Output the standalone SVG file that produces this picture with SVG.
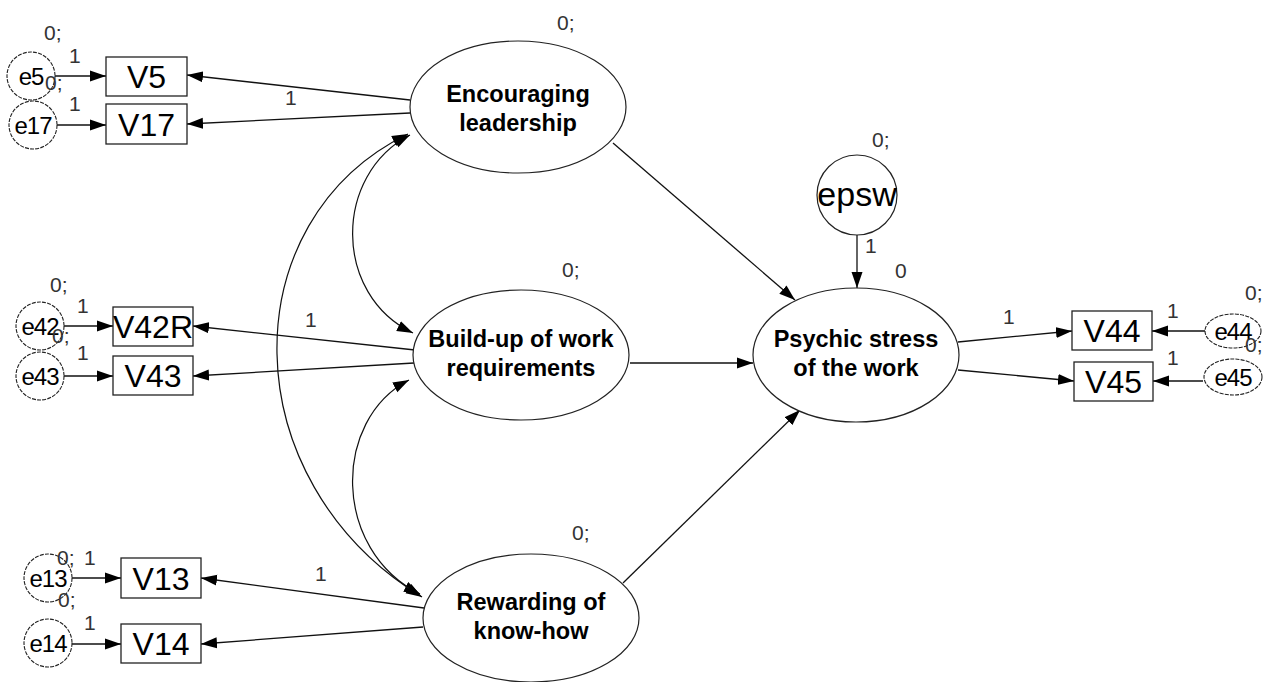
<svg xmlns="http://www.w3.org/2000/svg" width="1265" height="682" viewBox="0 0 1265 682">
<style>
.bg{fill:#fff}
.lat{fill:#fff;stroke:#222;stroke-width:1.2}
.err{fill:#fff;stroke:#222;stroke-width:1.1;stroke-dasharray:4 1.2}
.obs{fill:#fff;stroke:#222;stroke-width:1.3}
.ln{fill:none;stroke:#111;stroke-width:1.3;marker-end:url(#ah)}
.cv{fill:none;stroke:#111;stroke-width:1.2;marker-end:url(#ah);marker-start:url(#ah)}
.lt{font-family:"Liberation Sans",Arial,sans-serif;font-weight:bold;font-size:23.5px;fill:#000;text-anchor:middle}
.ot{font-family:"Liberation Sans",Arial,sans-serif;font-size:32px;fill:#000;text-anchor:middle}
.et{font-family:"Liberation Sans",Arial,sans-serif;font-size:24px;fill:#000;text-anchor:middle;letter-spacing:-1px}
.sm{font-family:"Liberation Sans",Arial,sans-serif;font-size:21px;fill:#333}
</style>
<defs>
<marker id="ah" markerUnits="userSpaceOnUse" markerWidth="16" markerHeight="12" refX="16" refY="6" orient="auto-start-reverse">
<path d="M0,0.5 L16,6 L0,11.5 z" fill="#000"/>
</marker>
</defs>
<rect class="bg" x="0" y="0" width="1265" height="682"/>

<g id="connectors">
<line class="ln" x1="55" y1="76" x2="106" y2="76"/>
<line class="ln" x1="57" y1="125" x2="106" y2="125"/>
<line class="ln" x1="64" y1="326" x2="113" y2="326"/>
<line class="ln" x1="64" y1="376" x2="113" y2="376"/>
<line class="ln" x1="72" y1="578" x2="121" y2="578"/>
<line class="ln" x1="72" y1="644" x2="121" y2="644"/>
<line class="ln" x1="410" y1="100" x2="187" y2="75"/>
<line class="ln" x1="410" y1="113" x2="187" y2="124"/>
<line class="ln" x1="415" y1="350" x2="193" y2="326"/>
<line class="ln" x1="414" y1="363" x2="193" y2="376"/>
<line class="ln" x1="424" y1="608" x2="201" y2="578"/>
<line class="ln" x1="423" y1="627" x2="201" y2="644"/>
<line class="ln" x1="613" y1="143" x2="795" y2="300"/>
<line class="ln" x1="630" y1="363" x2="753" y2="363"/>
<line class="ln" x1="623" y1="583" x2="800" y2="410"/>
<line class="ln" x1="857" y1="235" x2="857" y2="288"/>
<line class="ln" x1="958" y1="342" x2="1072" y2="331"/>
<line class="ln" x1="958" y1="370" x2="1074" y2="381"/>
<line class="ln" x1="1205" y1="331" x2="1152" y2="331"/>
<line class="ln" x1="1203" y1="381" x2="1153" y2="381"/>
<path class="cv" d="M410 135 C333 175,333 295,413 333"/>
<path class="cv" d="M409 380 C332 420,332 550,420 594"/>
<path class="cv" d="M408 134 C231 220,231 480,422 597"/>
</g>

<g id="enc"><ellipse class="lat" cx="518" cy="107" rx="108" ry="66"/><text class="lt" x="518" y="102">Encouraging</text><text class="lt" x="518" y="131">leadership</text></g>
<g id="build"><ellipse class="lat" cx="521" cy="355" rx="108" ry="65"/><text class="lt" x="521" y="347">Build-up of work</text><text class="lt" x="521" y="376">requirements</text></g>
<g id="reward"><ellipse class="lat" cx="531" cy="618" rx="108" ry="64"/><text class="lt" x="531" y="610">Rewarding of</text><text class="lt" x="531" y="639">know-how</text></g>
<g id="psy"><ellipse class="lat" cx="856" cy="355" rx="103" ry="67"/><text class="lt" x="856" y="347">Psychic stress</text><text class="lt" x="856" y="376">of the work</text></g>
<g id="epsw"><circle class="lat" cx="857" cy="195" r="40"/><text class="ot" x="857" y="206" style="font-size:34px">epsw</text></g>

<g id="V5"><rect class="obs" x="106" y="57" width="81" height="39"/><text class="ot" x="146.5" y="88">V5</text></g>
<g id="V17"><rect class="obs" x="106" y="104" width="81" height="40"/><text class="ot" x="146.5" y="136">V17</text></g>
<g id="V42R"><rect class="obs" x="113" y="307" width="80" height="39"/><text class="ot" x="153" y="338">V42R</text></g>
<g id="V43"><rect class="obs" x="113" y="356" width="80" height="39"/><text class="ot" x="153" y="387">V43</text></g>
<g id="V13"><rect class="obs" x="121" y="558" width="80" height="40"/><text class="ot" x="161" y="590">V13</text></g>
<g id="V14"><rect class="obs" x="121" y="624" width="80" height="39"/><text class="ot" x="161" y="655">V14</text></g>
<g id="V44"><rect class="obs" x="1072" y="311" width="80" height="39"/><text class="ot" x="1112" y="342">V44</text></g>
<g id="V45"><rect class="obs" x="1074" y="362" width="79" height="39"/><text class="ot" x="1113.5" y="393">V45</text></g>

<g id="e5"><circle class="err" cx="31" cy="76" r="24"/><text class="et" x="31" y="85">e5</text></g>
<g id="e17"><circle class="err" cx="33" cy="125" r="24"/><text class="et" x="33" y="134">e17</text></g>
<g id="e42"><circle class="err" cx="40" cy="326" r="24"/><text class="et" x="40" y="335">e42</text></g>
<g id="e43"><circle class="err" cx="40" cy="376" r="24"/><text class="et" x="40" y="385">e43</text></g>
<g id="e13"><circle class="err" cx="48" cy="578" r="24"/><text class="et" x="48" y="587">e13</text></g>
<g id="e14"><circle class="err" cx="48" cy="643" r="24"/><text class="et" x="48" y="652">e14</text></g>
<g id="e44"><ellipse class="err" cx="1233" cy="331" rx="28" ry="17"/><text class="et" x="1233" y="340">e44</text></g>
<g id="e45"><ellipse class="err" cx="1233" cy="377" rx="29" ry="18"/><text class="et" x="1233" y="386">e45</text></g>

<g id="labels">
<text class="sm" x="44" y="40">0;</text>
<text class="sm" x="69" y="63">1</text>
<text class="sm" x="45" y="90">0;</text>
<text class="sm" x="69" y="111">1</text>
<text class="sm" x="50" y="292">0;</text>
<text class="sm" x="77" y="313">1</text>
<text class="sm" x="52" y="343">0;</text>
<text class="sm" x="77" y="360">1</text>
<text class="sm" x="57" y="565">0;</text>
<text class="sm" x="84" y="565">1</text>
<text class="sm" x="58" y="607">0;</text>
<text class="sm" x="84" y="630">1</text>
<text class="sm" x="1245" y="300">0;</text>
<text class="sm" x="1167" y="318">1</text>
<text class="sm" x="1245" y="352">0;</text>
<text class="sm" x="1167" y="365">1</text>
<text class="sm" x="557" y="30">0;</text>
<text class="sm" x="562" y="277">0;</text>
<text class="sm" x="572" y="540">0;</text>
<text class="sm" x="872" y="147">0;</text>
<text class="sm" x="865" y="253">1</text>
<text class="sm" x="895" y="278">0</text>
<text class="sm" x="285" y="105">1</text>
<text class="sm" x="305" y="327">1</text>
<text class="sm" x="315" y="581">1</text>
<text class="sm" x="1003" y="324">1</text>
</g>
</svg>
